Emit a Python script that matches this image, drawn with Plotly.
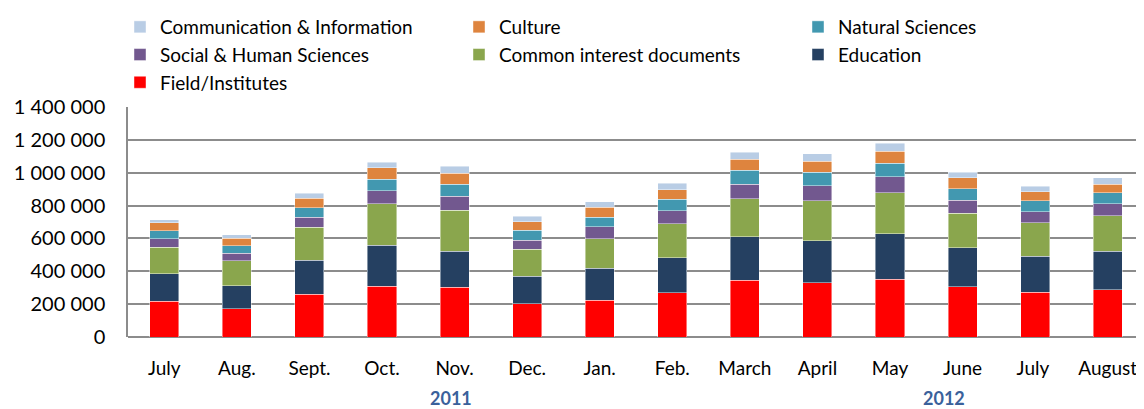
import plotly.graph_objects as go

months = ["July", "Aug.", "Sept.", "Oct.", "Nov.", "Dec.", "Jan.", "Feb.", "March",
          "April", "May", "June", "July ", "August"]

field_institutes = [219000, 172000, 260000, 310000, 302000, 203000, 225000, 268000,
                    345000, 329000, 353000, 306000, 272000, 288000]
education = [166000, 140000, 207000, 250000, 221000, 168000, 195000, 215000,
             264000, 257000, 274000, 236000, 221000, 235000]
common_interest = [161000, 153000, 201000, 250000, 248000, 163000, 179000, 207000,
                   233000, 242000, 250000, 211000, 201000, 214000]
social_human = [53000, 46000, 62000, 81000, 87000, 56000, 71000, 79000,
                89000, 93000, 99000, 79000, 69000, 73000]
natural_sciences = [48000, 45000, 57000, 69000, 73000, 61000, 60000, 71000,
                    84000, 83000, 83000, 71000, 65000, 67000]
culture = [47000, 45000, 57000, 71000, 67000, 51000, 59000, 57000,
           68000, 65000, 73000, 65000, 57000, 54000]
communication = [20000, 20000, 30000, 34000, 41000, 32000, 35000, 38000,
                 43000, 45000, 47000, 36000, 32000, 37000]

year_labels = ["2011", "2012"]

series = [
    ("Field/Institutes", field_institutes, "#FF0000"),
    ("Education", education, "#254061"),
    ("Common interest documents", common_interest, "#8AA64D"),
    ("Social & Human Sciences", social_human, "#72588F"),
    ("Natural Sciences", natural_sciences, "#4298B0"),
    ("Culture", culture, "#DE843E"),
    ("Communication & Information", communication, "#B9CDE5"),
]

fig = go.Figure()
for name, vals, col in series:
    fig.add_trace(go.Bar(
        x=months, y=vals, name=name,
        marker=dict(color=col, line=dict(color="rgba(255,255,255,0.55)", width=0.8)),
    ))

font_family = "Lato, 'Open Sans', sans-serif"

# the page body adds an 8px offset, so the figure is sized 8px smaller
fig.update_layout(
    width=1136, height=401,
    barmode="stack", bargap=0.6,
    plot_bgcolor="white", paper_bgcolor="white",
    separators=". ",
    margin=dict(l=120, r=0, t=99, b=72, autoexpand=False),
    font=dict(family=font_family, size=20, color="#000000"),
    legend=dict(
        orientation="h", traceorder="reversed",
        x=0.0986, xanchor="left", y=1.0, yanchor="top",
        xref="container", yref="container",
        entrywidth=294, entrywidthmode="pixels",
        font=dict(size=19, family=font_family),
        itemwidth=30, tracegroupgap=0,
        bgcolor="rgba(0,0,0,0)",
    ),
    xaxis=dict(
        type="category", showgrid=False, ticks="", showline=False,
        tickfont=dict(size=19), ticklabelstandoff=18,
    ),
    yaxis=dict(
        range=[0, 1400000], dtick=200000, tickformat=",d",
        showgrid=True, gridcolor="#8C8C8C", gridwidth=1.5,
        zeroline=True, zerolinecolor="#8C8C8C", zerolinewidth=1.5,
        showline=True, linecolor="#8C8C8C", linewidth=1.5,
        ticks="", tickfont=dict(size=20), ticklabelstandoff=17,
    ),
    annotations=[
        dict(text="<b>%s</b>" % year_labels[0], x=3.95, xref="x", y=-0.265, yref="paper",
             showarrow=False, font=dict(size=18, color="#3A619B"), yanchor="middle"),
        dict(text="<b>%s</b>" % year_labels[1], x=10.75, xref="x", y=-0.265, yref="paper",
             showarrow=False, font=dict(size=18, color="#3A619B"), yanchor="middle"),
    ],
)

fig.write_html("out.html")
